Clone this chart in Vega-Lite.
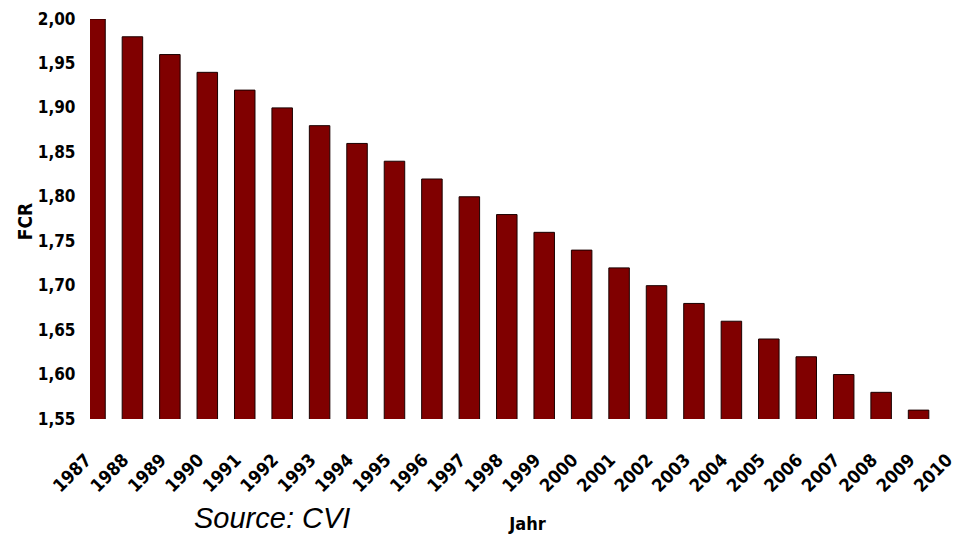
{
  "$schema": "https://vega.github.io/schema/vega-lite/v6.json",
  "autosize": "none",
  "width": 871,
  "height": 400,
  "padding": {"left": 90, "top": 19, "right": 0, "bottom": 115},
  "background": "white",
  "config": {"view": {"stroke": null}},
  "title": {
    "text": "Source: CVI",
    "orient": "bottom",
    "anchor": "start",
    "frame": "group",
    "font": "Liberation Sans",
    "fontStyle": "italic",
    "fontWeight": "normal",
    "fontSize": 29,
    "color": "black",
    "baseline": "alphabetic",
    "offset": 0,
    "dx": 104,
    "dy": -5
  },
  "data": {
    "values": [
      {"year": 1987, "fcr": 2.00},
      {"year": 1988, "fcr": 1.98},
      {"year": 1989, "fcr": 1.96},
      {"year": 1990, "fcr": 1.94},
      {"year": 1991, "fcr": 1.92},
      {"year": 1992, "fcr": 1.90},
      {"year": 1993, "fcr": 1.88},
      {"year": 1994, "fcr": 1.86},
      {"year": 1995, "fcr": 1.84},
      {"year": 1996, "fcr": 1.82},
      {"year": 1997, "fcr": 1.80},
      {"year": 1998, "fcr": 1.78},
      {"year": 1999, "fcr": 1.76},
      {"year": 2000, "fcr": 1.74},
      {"year": 2001, "fcr": 1.72},
      {"year": 2002, "fcr": 1.70},
      {"year": 2003, "fcr": 1.68},
      {"year": 2004, "fcr": 1.66},
      {"year": 2005, "fcr": 1.64},
      {"year": 2006, "fcr": 1.62},
      {"year": 2007, "fcr": 1.60},
      {"year": 2008, "fcr": 1.58},
      {"year": 2009, "fcr": 1.56}
    ]
  },
  "mark": {"type": "bar", "width": 20.5, "color": "#800000", "stroke": "#1a0000", "strokeWidth": 1, "clip": true},
  "encoding": {
    "x": {
      "field": "year",
      "type": "quantitative",
      "scale": {"domain": [1987, 2010], "nice": false, "zero": false},
      "axis": {
        "values": [1987,1988,1989,1990,1991,1992,1993,1994,1995,1996,1997,1998,1999,2000,2001,2002,2003,2004,2005,2006,2007,2008,2009,2010],
        "labelExpr": "toString(datum.value)",
        "labelAngle": -45,
        "labelAlign": "right",
        "labelBaseline": "top",
        "labelPadding": 32,
        "labelOffset": -13,
        "labelFont": "DejaVu Sans Condensed",
        "labelFontWeight": "bold",
        "labelFontSize": 18,
        "labelColor": "black",
        "labelOverlap": false,
        "labelFlush": false,
        "ticks": false,
        "domain": false,
        "grid": false,
        "title": "Jahr",
        "titleFont": "DejaVu Sans Condensed",
        "titleFontWeight": "bold",
        "titleFontSize": 18,
        "titleColor": "black",
        "titleX": 437,
        "titleY": 110,
        "titleAlign": "center",
        "titleBaseline": "alphabetic"
      }
    },
    "y": {
      "field": "fcr",
      "type": "quantitative",
      "scale": {"domain": [1.55, 2.0], "nice": false, "zero": false},
      "axis": {
        "values": [1.55,1.6,1.65,1.7,1.75,1.8,1.85,1.9,1.95,2.0],
        "labelExpr": "replace(format(datum.value, '.2f'), '.', ',')",
        "labelFont": "DejaVu Sans Condensed",
        "labelFontWeight": "bold",
        "labelFontSize": 17,
        "labelColor": "black",
        "labelPadding": 15,
        "labelFlush": false,
        "ticks": false,
        "domain": false,
        "grid": false,
        "title": "FCR",
        "titleFont": "DejaVu Sans Condensed",
        "titleFontWeight": "bold",
        "titleFontSize": 19,
        "titleColor": "black",
        "titleX": -65,
        "titleY": 202,
        "titleAngle": -90,
        "titleAlign": "center",
        "titleBaseline": "middle"
      }
    }
  }
}
